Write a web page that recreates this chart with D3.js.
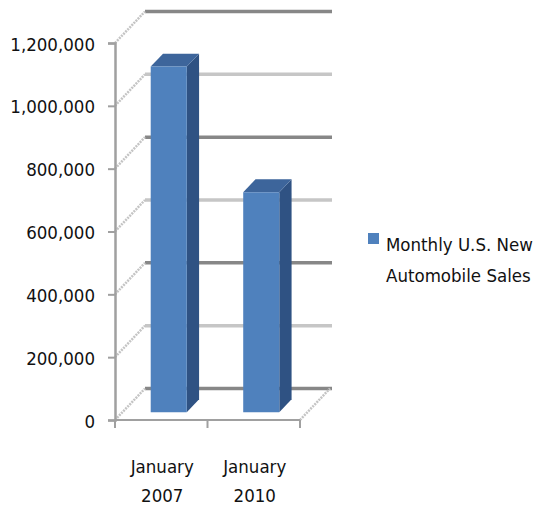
<!DOCTYPE html>
<html>
<head>
<meta charset="utf-8">
<script src="https://cdn.jsdelivr.net/npm/d3@7"></script>
<style>
    body { margin: 0; background: white; }
    text { font-family: "DejaVu Sans Condensed", "Liberation Sans", sans-serif; fill: #111; }
</style>
</head>
<body>
<div id="chart"></div>
<script>
const categories = [["January", "2007"], ["January", "2010"]]
const sales = [1100000, 700000]
const yTicks = [0, 200000, 400000, 600000, 800000, 1000000, 1200000]
const seriesName = ["Monthly U.S. New", "Automobile Sales"]

const sizing = {
    width : 543,
    height: 508
}
const plot = {
    left : 115,
    right : 300,
    top : 43,
    bot : 420
}
// offset of the back wall (3d depth)
const depth = { dx : 30, dy : -31.5 }
const barDepth = [0.25, 0.66]
const fontSize = 18.5

const svg = d3.select("#chart").append("svg")
    .attr("width", sizing.width)
    .attr("height", sizing.height)

const y = d3.scaleLinear()
    .domain([0, 1200000])
    .range([plot.bot, plot.top])

const x = d3.scaleBand()
    .domain(categories.map(d => d.join(" ")))
    .range([plot.left, plot.right])
    .padding(0)

const proj = function(px, v, f) { return [px + f * depth.dx, y(v) + f * depth.dy] }

// back wall gridlines
svg.append("g").selectAll("line")
    .data(yTicks)
    .join("line")
    .attr("x1", plot.left + depth.dx)
    .attr("x2", plot.right + depth.dx + 2)
    .attr("y1", d => y(d) + depth.dy)
    .attr("y2", d => y(d) + depth.dy)
    .attr("stroke", (d, i) => i % 2 == 0 ? "#878787" : "#c6c6c6")
    .attr("stroke-width", 3.5)

// left wall diagonals
svg.append("g").selectAll("line")
    .data(yTicks)
    .join("line")
    .attr("x1", plot.left)
    .attr("y1", d => y(d))
    .attr("x2", plot.left + depth.dx)
    .attr("y2", d => y(d) + depth.dy)
    .attr("stroke", "#c4c4c4")
    .attr("stroke-width", 2.5)
    .attr("stroke-dasharray", "2,1")

// floor right edge
svg.append("line")
    .attr("x1", plot.right).attr("y1", y(0))
    .attr("x2", plot.right + depth.dx).attr("y2", y(0) + depth.dy)
    .attr("stroke", "#c4c4c4")
    .attr("stroke-width", 2.5)
    .attr("stroke-dasharray", "2,1")

// bars
const bars = svg.append("g")
const barColors = { front : "#4f81bd", top : "#3d659b", side : "#2f5283" }
categories.forEach((c, i) => {
    const key = c.join(" ")
    const x0 = x(key) + x.bandwidth() * 0.305
    const x1 = x0 + x.bandwidth() * 0.39
    const v = sales[i]
    const [f0, f1] = barDepth
    const poly = pts => pts.map(p => p.join(",")).join(" ")

    bars.append("polygon")
        .attr("points", poly([proj(x1, v, f0), proj(x1, 0, f0), proj(x1, 0, f1), proj(x1, v, f1)]))
        .attr("fill", barColors.side)
    bars.append("polygon")
        .attr("points", poly([proj(x0, v, f0), proj(x1, v, f0), proj(x1, v, f1), proj(x0, v, f1)]))
        .attr("fill", barColors.top)
    bars.append("polygon")
        .attr("points", poly([proj(x0, v, f0), proj(x1, v, f0), proj(x1, 0, f0), proj(x0, 0, f0)]))
        .attr("fill", barColors.front)
})

// front axes
const yAxis = d3.axisLeft(y).tickValues(yTicks).tickSize(7).tickPadding(13)
    .tickFormat(d3.format(","))
const yGroup = svg.append("g")
    .attr("transform", `translate(${plot.left},0)`)
    .call(yAxis)
yGroup.select(".domain").attr("stroke", "#a0a0a0").attr("stroke-width", 2.5)
yGroup.selectAll(".tick line").attr("stroke", "#a0a0a0").attr("stroke-width", 2)
yGroup.selectAll(".tick text")
    .attr("font-size", fontSize)
    .attr("font-family", null)
    .attr("fill", "#111")
    .attr("dy", "0.38em")

const xGroup = svg.append("g")
    .attr("transform", `translate(0,${plot.bot})`)
xGroup.append("line")
    .attr("x1", plot.left).attr("x2", plot.right)
    .attr("stroke", "#a0a0a0").attr("stroke-width", 2)
xGroup.selectAll(".tk")
    .data([plot.left, ...categories.map(c => x(c.join(" ")) + x.bandwidth())])
    .join("line")
    .attr("class", "tk")
    .attr("x1", d => d).attr("x2", d => d)
    .attr("y1", 0).attr("y2", 8)
    .attr("stroke", "#a0a0a0").attr("stroke-width", 2)

const xLabels = xGroup.selectAll(".xl")
    .data(categories)
    .join("text")
    .attr("class", "xl")
    .attr("text-anchor", "middle")
    .attr("font-size", fontSize)
xLabels.selectAll("tspan")
    .data(d => d.map(t => ({ t, key : d.join(" ") })))
    .join("tspan")
    .attr("x", d => x(d.key) + x.bandwidth() / 2 + 1)
    .attr("y", (d, i) => 53 + i * 29)
    .text(d => d.t)

// legend
const legend = svg.append("g").attr("transform", "translate(368,233)")
legend.append("rect")
    .attr("width", 11).attr("height", 11)
    .attr("fill", barColors.front)
legend.selectAll("text")
    .data(seriesName)
    .join("text")
    .attr("x", 18)
    .attr("y", (d, i) => 18 + i * 31)
    .attr("font-size", fontSize)
    .text(d => d)
</script>
</body>
</html>
